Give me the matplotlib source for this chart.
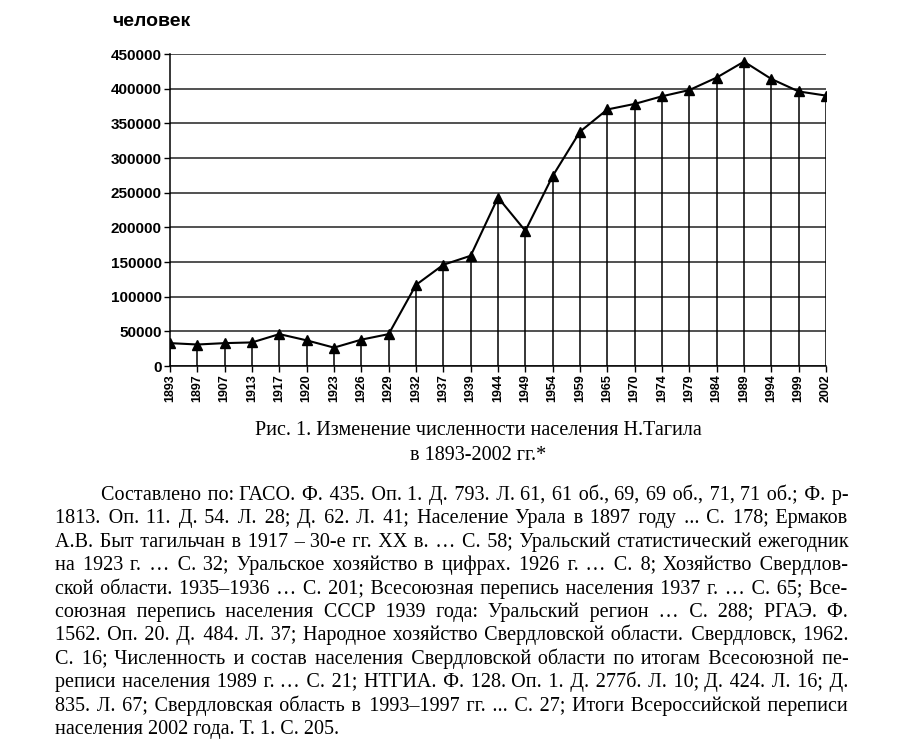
import numpy as np
import matplotlib.pyplot as plt

years = ["1893", "1897", "1907", "1913", "1917", "1920", "1923", "1926", "1929",
         "1932", "1937", "1939", "1944", "1949", "1954", "1959", "1965", "1970",
         "1974", "1979", "1984", "1989", "1994", "1999", "2002"]
population = [33000, 31000, 33000, 34000, 46000, 37000, 26500, 38000, 46000,
              117000, 146000, 159000, 243000, 195000, 274000, 338000, 370000, 378000,
              389000, 398000, 416000, 439000, 414000, 396000, 390000]
yticks = [0, 50000, 100000, 150000, 200000, 250000, 300000, 350000, 400000, 450000]

caption = ["Рис. 1. Изменение численности населения Н.Тагила",
           "в 1893-2002 гг.*"]

source_lines = [
    "Составлено по: ГАСО. Ф. 435. Оп. 1. Д. 793. Л. 61, 61 об., 69, 69 об., 71, 71 об.; Ф. р-",
    "1813. Оп. 11. Д. 54. Л. 28; Д. 62. Л. 41; Население Урала в 1897 году ... С. 178; Ермаков",
    "А.В. Быт тагильчан в 1917 – 30-е гг. XX в. … С. 58; Уральский статистический ежегодник",
    "на 1923 г. … С. 32; Уральское хозяйство в цифрах. 1926 г. … С. 8; Хозяйство Свердлов-",
    "ской области. 1935–1936 … С. 201; Всесоюзная перепись населения 1937 г. … С. 65; Все-",
    "союзная перепись населения СССР 1939 года: Уральский регион … С. 288; РГАЭ. Ф.",
    "1562. Оп. 20. Д. 484. Л. 37; Народное хозяйство Свердловской области. Свердловск, 1962.",
    "С. 16; Численность и состав населения Свердловской области по итогам Всесоюзной пе-",
    "реписи населения 1989 г. … С. 21; НТГИА. Ф. 128. Оп. 1. Д. 277б. Л. 10; Д. 424. Л. 16; Д.",
    "835. Л. 67; Свердловская область в 1993–1997 гг. ... С. 27; Итоги Всероссийской переписи",
    "населения 2002 года. Т. 1. С. 205.",
]

W, H = 900, 753
fig = plt.figure(figsize=(W / 100, H / 100), dpi=100)
ax = fig.add_axes([170 / W, 1 - 366 / H, (826 - 170) / W, (366 - 54) / H])

x = np.arange(len(years))
ax.vlines(x, 0, population, color="black", lw=1.1, zorder=2)
ax.plot(x, population, color="black", lw=1.5, marker="^", markersize=7, zorder=3)

ax.set_xlim(0, len(years) - 1)
ax.set_ylim(0, 450000)
ax.set_yticks(yticks)
ax.set_yticklabels([str(v) for v in yticks], fontsize=11, fontweight="bold",
                   family="Liberation Sans")
ax.set_xticks(x)
ax.set_xticklabels(years, rotation=90, fontsize=9, fontweight="bold",
                   family="Liberation Sans")
ax.tick_params(axis="both", length=4, width=1, color="black", pad=2)
ax.yaxis.grid(True, color="#222222", lw=1.1)
ax.set_axisbelow(True)
for s in ["top", "right"]:
    ax.spines[s].set_visible(False)
ax.spines["left"].set_linewidth(1.1)
ax.spines["bottom"].set_linewidth(1.1)

fig.text(112 / W, 1 - 22 / H, "человек", fontsize=14, fontweight="semibold",
         family="Liberation Sans", va="center", ha="left")

serif = ["Liberation Serif", "DejaVu Serif"]
fig.text(478 / W, 1 - 430 / H, caption[0], fontsize=14.5, family=serif,
         ha="center", va="center")
fig.text(478 / W, 1 - 455 / H, caption[1], fontsize=14.5, family=serif,
         ha="center", va="center")

# justified paragraph: one text per line, gaps widened with hair/thin spaces
renderer = fig.canvas.get_renderer()
fs = 14.5
probe = fig.text(0, 0, "", fontsize=fs, family=serif)


def ink_width(s):
    probe.set_text(s)
    return probe.get_window_extent(renderer).width


def adv(s):
    return ink_width("a" + s + "a") - ink_width("aa")


fillers = []
for n_thin in range(0, 4):
    for n_hair in range(0, 6):
        f = " " + "\u2009" * n_thin + "\u200a" * n_hair
        fillers.append((adv(f), f))

left, indent_left, right = 55, 101, 848
for i, line in enumerate(source_lines):
    base = 500 + i * 23.4
    x0 = indent_left if i == 0 else left
    words = line.split(" ")
    if i == len(source_lines) - 1:
        s = line
    else:
        widths = [ink_width(w) for w in words]
        g = (right - x0 - sum(widths)) / (len(words) - 1)
        s = words[0]
        for k in range(1, len(words)):
            target = sum(widths[:k]) + k * g
            need = target - ink_width(s)
            f = min(fillers, key=lambda p: abs(p[0] - need))[1]
            s = s + f + words[k]
    fig.text(x0 / W, 1 - base / H, s, fontsize=fs, family=serif,
             ha="left", va="baseline")
probe.remove()

fig.savefig("out.png", dpi=100)
